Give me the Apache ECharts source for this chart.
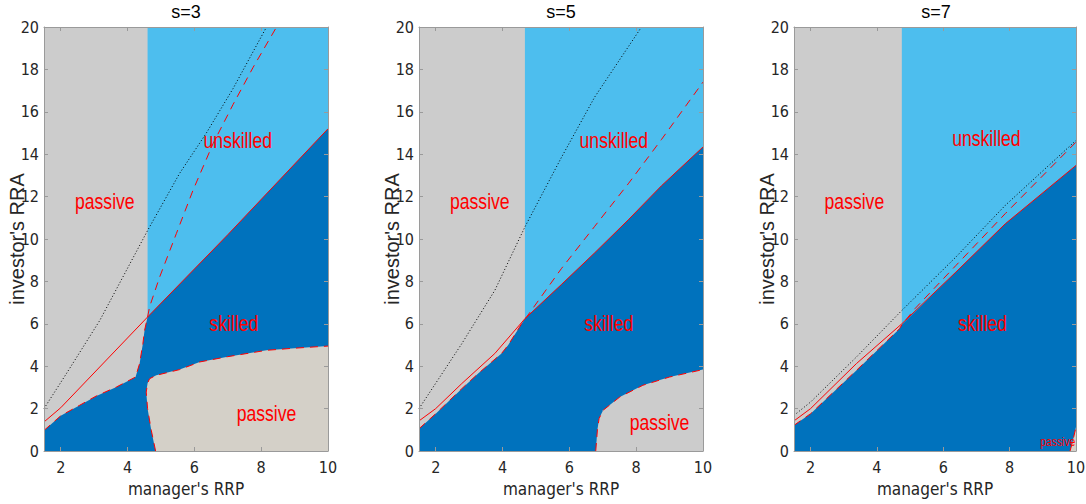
<!DOCTYPE html>
<html>
<head>
<meta charset="utf-8">
<title>Investor RRA vs manager RRP</title>
<script src="https://cdn.jsdelivr.net/npm/echarts@6/dist/echarts.min.js"></script>
<style>
  html, body { margin: 0; padding: 0; background: #ffffff; }
  #chart { width: 1086px; height: 504px; }
</style>
</head>
<body>
<div id="chart"></div>
<script>
// Axis ticks
const xTicks = [2, 4, 6, 8, 10];
const yTicks = [0, 2, 4, 6, 8, 10, 12, 14, 16, 18, 20];
const panelTitles = ['s=3', 's=5', 's=7'];

// Manager RRP where the unskilled region begins (one per panel)
const splitX = [4.6, 4.67, 4.75];

// s=3 ------------------------------------------------------------
const solidS3 = [[1.5, 1.37], [2, 2.04], [4.6, 6.32], [7, 10.2], [10, 15.2]];
const edgeS3 = [[1.5, 0.97], [2, 1.66], [2.57, 2.16], [3.07, 2.6], [3.67, 3.02], [4.24, 3.49],
                [4.36, 4.12], [4.46, 5.07], [4.51, 5.69], [4.6, 6.32]];
const dashS3 = [[4.6, 6.32], [4.66, 6.8], [4.96, 8.2], [5.46, 10.25], [5.96, 12.3], [6.56, 14.5],
                [7.16, 16.35], [7.76, 18.1], [8.46, 20]];
const dotS3 = [[1.5, 2.0], [2.17, 3.65], [3.17, 6.16], [4.6, 10.4], [5.56, 13.1], [6.36, 15.0],
               [7.16, 17.1], [8.16, 20]];
const pocketS3 = [[4.84, 0], [4.71, 0.98], [4.6, 2.0], [4.56, 2.78], [4.6, 3.2], [4.66, 3.41],
                  [4.86, 3.57], [5.56, 3.84], [6.16, 4.2], [7.0, 4.45], [8.16, 4.75], [9.0, 4.85],
                  [10, 4.95]];
const labelsS3 = [[3.32, 11.78, 'passive'], [7.3, 14.65, 'unskilled'], [7.18, 6.02, 'skilled'],
                  [8.16, 1.78, 'passive']];

// s=5 ------------------------------------------------------------
const solidS5 = [[1.5, 1.42], [2, 2.0], [2.78, 3.18], [3.77, 4.6], [4.67, 6.24], [5.76, 7.85],
                 [6.76, 9.35], [7.76, 10.9], [8.75, 12.5], [10, 14.34]];
const edgeS5 = [[1.5, 1.05], [2, 1.76], [2.78, 2.94], [3.27, 3.65], [3.97, 4.6], [4.17, 5.0],
                [4.57, 6.0], [4.67, 6.24]];
const dashS5 = [[4.67, 6.24], [4.72, 6.32], [5.76, 8.6], [6.76, 10.6], [7.76, 12.6], [8.76, 14.7],
                [10, 17.4]];
const dotS5 = [[1.5, 2.0], [2.78, 5.06], [3.77, 7.58], [4.67, 10.57], [5.76, 13.84], [6.76, 16.7],
               [8.16, 20]];
const pocketS5 = [[6.79, 0], [6.84, 1.0], [6.89, 1.53], [7.01, 1.92], [7.51, 2.55], [8.2, 3.1],
                  [9.0, 3.49], [10, 3.84]];
const labelsS5 = [[3.32, 11.78, 'passive'], [7.33, 14.65, 'unskilled'], [7.18, 6.02, 'skilled'],
                  [8.7, 1.35, 'passive']];

// s=7 ------------------------------------------------------------
const solidS7 = [[1.5, 1.42], [2, 2.0], [3.38, 4.12], [4.75, 6.0], [6.38, 8.44], [7.87, 10.72],
                 [10, 13.47]];
const edgeS7 = [[1.5, 1.21], [2, 1.76], [3.38, 3.8], [4.68, 5.77], [4.75, 5.95]];
const dashS7 = [[4.75, 5.95], [5.15, 6.72], [6.38, 8.75], [7.87, 11.2], [10, 14.57]];
const dotS7 = [[1.5, 1.68], [2, 2.31], [3.38, 4.43], [4.75, 6.63], [6.38, 9.15], [7.87, 11.59],
               [10, 14.65]];
const pocketS7 = [[9.82, 0], [9.9, 0.45], [10, 1.13]];
const labelsS7 = [[3.32, 11.8, 'passive'], [7.3, 14.75, 'unskilled'], [7.18, 6.02, 'skilled']];
const smallLabelsS7 = [[9.45, 0.46, 'passive']];

const panels = [
  { solid: solidS3, edge: edgeS3, dash: dashS3, dot: dotS3, pocket: pocketS3, labels: labelsS3, small: [], pocketColor: '#D4D0C8' },
  { solid: solidS5, edge: edgeS5, dash: dashS5, dot: dotS5, pocket: pocketS5, labels: labelsS5, small: [], pocketColor: '#CCCCCC' },
  { solid: solidS7, edge: edgeS7, dash: dashS7, dot: dotS7, pocket: pocketS7, labels: labelsS7, small: smallLabelsS7, pocketColor: '#D4D0C8' }
];

const X_MIN = 1.5, X_MAX = 10, Y_MIN = 0, Y_MAX = 20;
const COND = "'DejaVu Sans Condensed', 'Liberation Sans', sans-serif";
const SANS = "'Liberation Sans', Arial, Helvetica, sans-serif";
const AXIS_GRAY = '#9a9a9a';
const RED = '#FF0000';
const gridLefts = [44, 419, 794];
const gridWidths = [284, 284, 282];

function polygonSeries(i, pts, color, z) {
  return {
    type: 'custom', xAxisIndex: 2 * i, yAxisIndex: 2 * i, clip: true, silent: true, z: z,
    data: pts,
    renderItem: function (params, api) {
      if (params.dataIndex !== 0) return null;
      return {
        type: 'polygon',
        shape: { points: pts.map(function (p) { return api.coord(p); }) },
        style: { fill: color, stroke: null }
      };
    }
  };
}

function lineSeries(i, pts, color, type, z) {
  return {
    type: 'line', xAxisIndex: 2 * i, yAxisIndex: 2 * i, data: pts, showSymbol: false,
    symbol: 'none', silent: true, clip: true, z: z, animation: false,
    lineStyle: { color: color, width: 1, type: type }
  };
}

// Region names, set in a sans face squeezed horizontally
function textSeries(i, items, size) {
  return {
    type: 'custom', xAxisIndex: 2 * i, yAxisIndex: 2 * i, clip: false, silent: true, z: 10,
    data: items.map(function (d) { return [d[0], d[1]]; }),
    renderItem: function (params, api) {
      const d = items[params.dataIndex];
      const p = api.coord([d[0], d[1]]);
      return {
        type: 'text', x: p[0], y: p[1], scaleX: 0.8,
        style: { text: d[2], fill: RED, fontSize: size, fontFamily: SANS, align: 'center', verticalAlign: 'middle' }
      };
    }
  };
}

const grid = [], xAxis = [], yAxis = [], series = [], title = [];

panels.forEach(function (pn, i) {
  const left = gridLefts[i];
  const width = gridWidths[i];
  grid.push({
    left: left, top: 27, width: width, height: 424, show: true, backgroundColor: '#CCCCCC', borderWidth: 0,
    containLabel: false, outerBoundsMode: 'none'
  });
  title.push({
    text: panelTitles[i], left: left + 142, top: 3, padding: 0, textAlign: 'center',
    textStyle: { fontSize: 18, fontWeight: 'normal', color: '#000000', fontFamily: SANS }
  });

  const tickStyle = { lineStyle: { color: AXIS_GRAY, width: 1 } };
  xAxis.push({
    gridIndex: i, type: 'value', min: X_MIN, max: X_MAX, position: 'bottom', z: 20,
    axisLine: { show: true, onZero: false, lineStyle: { color: AXIS_GRAY, width: 1 } },
    axisTick: Object.assign({ show: true, inside: true, length: 4, customValues: xTicks }, tickStyle),
    axisLabel: { show: true, customValues: xTicks, color: '#262626', fontSize: 16, margin: 8, fontFamily: COND },
    splitLine: { show: false },
    name: "manager's RRP", nameLocation: 'middle', nameGap: 29, nameMoveOverlap: false,
    nameTextStyle: { fontSize: 17, color: '#262626', fontFamily: COND }
  });
  xAxis.push({
    gridIndex: i, type: 'value', min: X_MIN, max: X_MAX, position: 'top', z: 20,
    axisLine: { show: true, onZero: false, lineStyle: { color: AXIS_GRAY, width: 1 } },
    axisTick: Object.assign({ show: true, inside: true, length: 4, customValues: xTicks }, tickStyle),
    axisLabel: { show: false }, splitLine: { show: false }
  });
  yAxis.push({
    gridIndex: i, type: 'value', min: Y_MIN, max: Y_MAX, position: 'left', z: 20,
    axisLine: { show: true, onZero: false, lineStyle: { color: AXIS_GRAY, width: 1 } },
    axisTick: Object.assign({ show: true, inside: true, length: 4, customValues: yTicks }, tickStyle),
    axisLabel: { show: true, customValues: yTicks, color: '#262626', fontSize: 16, margin: 5, fontFamily: COND },
    splitLine: { show: false },
    name: "investor's RRA", nameLocation: 'middle', nameGap: 17, nameRotate: 90, nameMoveOverlap: false,
    nameTextStyle: { fontSize: 20, color: '#262626', fontFamily: SANS }
  });
  yAxis.push({
    gridIndex: i, type: 'value', min: Y_MIN, max: Y_MAX, position: 'right', z: 20,
    axisLine: { show: true, onZero: false, lineStyle: { color: AXIS_GRAY, width: 1 } },
    axisTick: Object.assign({ show: true, inside: true, length: 4, customValues: yTicks }, tickStyle),
    axisLabel: { show: false }, splitLine: { show: false }
  });

  // unskilled region: everything right of the split
  const sx = splitX[i];
  series.push(polygonSeries(i, [[sx, Y_MIN], [sx, Y_MAX], [X_MAX, Y_MAX], [X_MAX, Y_MIN]], '#4DBEEE', 1));

  // skilled region: below the left edge curve, then below the solid boundary
  const lastEdgeX = pn.edge[pn.edge.length - 1][0];
  const skilled = [[X_MIN, Y_MIN]]
    .concat(pn.edge)
    .concat(pn.solid.filter(function (p) { return p[0] > lastEdgeX; }))
    .concat([[X_MAX, Y_MIN]]);
  series.push(polygonSeries(i, skilled, '#0072BD', 2));

  // passive pocket at low RRA / high RRP
  series.push(polygonSeries(i, pn.pocket.concat([[X_MAX, Y_MIN]]), pn.pocketColor, 3));

  // boundary curves
  series.push(lineSeries(i, pn.edge.concat(pn.dash.slice(1)), RED, [8, 6], 5));
  series.push(lineSeries(i, pn.pocket, RED, [8, 6], 5));
  series.push(lineSeries(i, pn.solid, RED, 'solid', 6));
  series.push(lineSeries(i, pn.dot, '#000000', [1, 2.2], 6));

  series.push(textSeries(i, pn.labels, 22));
  if (pn.small.length) series.push(textSeries(i, pn.small, 13));
});

const chart = echarts.init(document.getElementById('chart'), null, { renderer: 'svg' });
chart.setOption({
  animation: false,
  backgroundColor: '#ffffff',
  title: title,
  grid: grid,
  xAxis: xAxis,
  yAxis: yAxis,
  series: series
});
</script>
</body>
</html>
